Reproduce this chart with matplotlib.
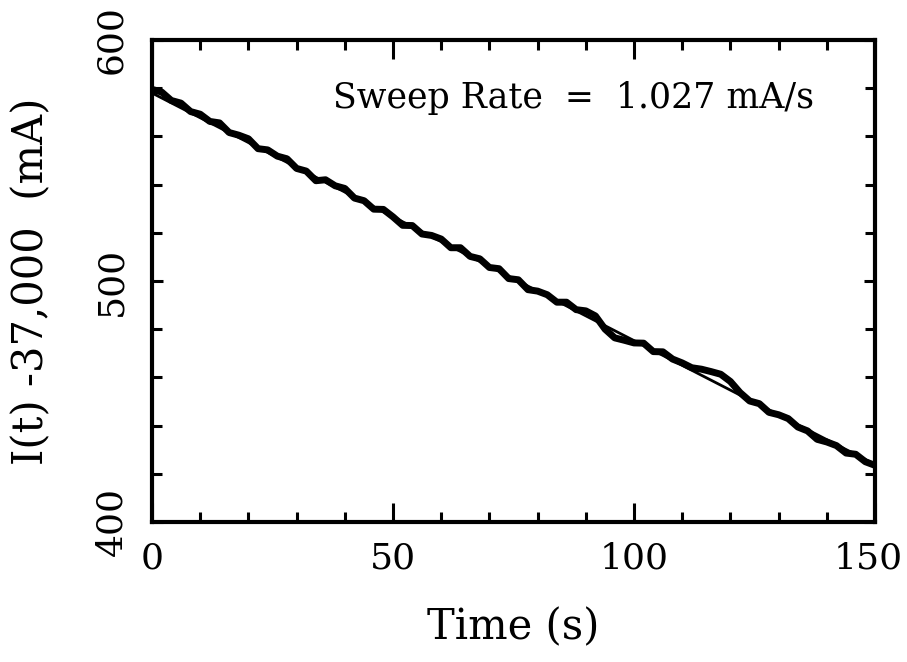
"""
Current sweep vs time: measured trace with linear fit (sweep rate annotation).
"""
import matplotlib
matplotlib.use("Agg")
import matplotlib.pyplot as plt
from matplotlib.ticker import MultipleLocator
from matplotlib.transforms import ScaledTranslation

TIME_S = [
    0, 2, 4, 6, 8, 10, 12, 14, 16, 18, 20, 22, 24, 26, 28, 30, 32, 34, 36, 38,
    40, 42, 44, 46, 48, 50, 52, 54, 56, 58, 60, 62, 64, 66, 68, 70, 72, 74, 76, 78,
    80, 82, 84, 86, 88, 90, 92, 94, 96, 98, 100, 102, 104, 106, 108, 110, 112, 114,
    116, 118, 120, 122, 124, 126, 128, 130, 132, 134, 136, 138, 140, 142, 144, 146,
    148, 150,
]
CURRENT_MA = [
    579.5, 578.4, 574.9, 573.8, 570.3, 569.2, 566.2, 565.6, 561.6, 560.5,
    559.0, 554.9, 554.4, 551.8, 550.7, 546.7, 545.6, 541.6, 542.0, 539.5,
    538.4, 534.4, 533.3, 529.8, 529.7, 526.6, 523.1, 523.0, 519.5, 518.9,
    517.4, 513.8, 513.8, 510.2, 509.2, 505.6, 505.1, 501.0, 500.5, 496.4,
    495.8, 494.3, 491.2, 491.2, 488.1, 487.6, 485.5, 480.0, 476.4, 475.4,
    474.3, 474.2, 470.7, 470.6, 467.6, 466.0, 464.0, 463.4, 462.4, 461.3,
    458.3, 453.7, 450.2, 449.1, 445.5, 444.5, 442.9, 439.4, 437.8, 434.3,
    433.2, 431.7, 428.6, 428.1, 425.0, 423.5,
]

# linear fit end points
FIT_T = [0, 150]
FIT_I = [578.0, 423.9]

X_TICKS = [0, 50, 100, 150]
Y_TICKS = [400, 500, 600]
ANNOTATION = "Sweep Rate  =  1.027 mA/s"

plt.rcParams["font.family"] = ["DejaVu Serif"]

fig = plt.figure(figsize=(9.07, 6.62), dpi=100)
ax = fig.add_axes([0.1676, 0.2115, 0.7971, 0.7281])

ax.plot(FIT_T, FIT_I, color="black", linewidth=2.0)
ax.plot(TIME_S, CURRENT_MA, color="black", linewidth=5.0, solid_joinstyle="round")

ax.set_xlim(0, 150)
ax.set_ylim(400, 600)
ax.set_xticks(X_TICKS)
ax.set_yticks(Y_TICKS)
ax.xaxis.set_minor_locator(MultipleLocator(10))
ax.yaxis.set_minor_locator(MultipleLocator(20))

for side in ax.spines.values():
    side.set_linewidth(3)

ax.tick_params(axis="both", which="both", direction="in",
               top=True, right=True, width=2.2)
ax.tick_params(axis="x", which="major", length=14, labelsize=26, pad=14)
ax.tick_params(axis="x", which="minor", length=7)
ax.tick_params(axis="y", which="major", length=8, labelsize=26, pad=17)
ax.tick_params(axis="y", which="minor", length=7)
for lbl in ax.get_yticklabels():
    lbl.set_rotation(90)
    lbl.set_va("center")

# keep the right-most x label inside the canvas
last = ax.get_xticklabels()[-1]
last.set_transform(last.get_transform() + ScaledTranslation(-5 / 72, 0, fig.dpi_scale_trans))

ax.set_xlabel("Time (s)", fontsize=30, labelpad=22)
ax.set_ylabel("I(t) -37,000  (mA)", fontsize=30, labelpad=30)

ax.text(37.5, 576, ANNOTATION, fontsize=25, ha="left", va="center")

fig.savefig("out.png", dpi=100, facecolor="white")
